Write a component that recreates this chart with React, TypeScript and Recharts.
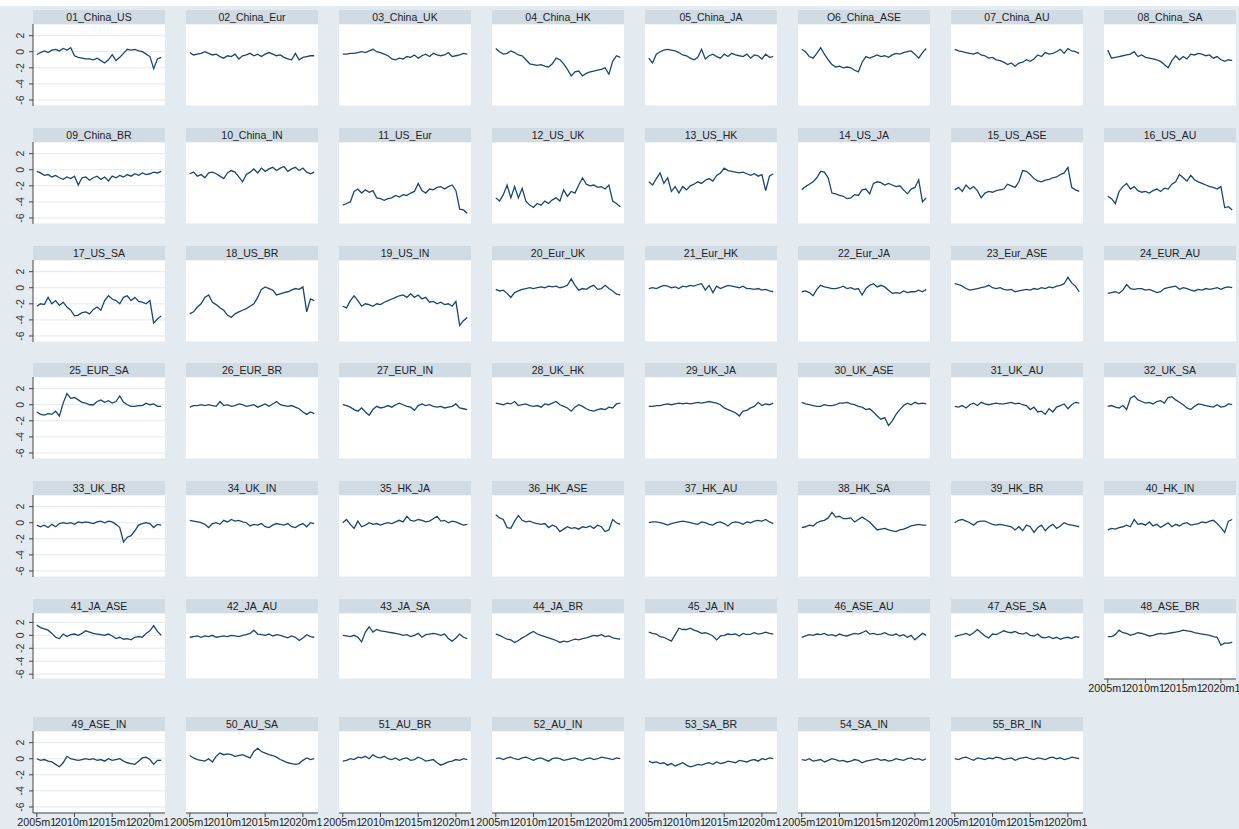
import React from 'react';
import { LineChart, Line, XAxis, YAxis, CartesianGrid } from 'recharts';

const dates = [2005, 2005.5, 2006, 2006.5, 2007, 2007.5, 2008, 2008.5, 2009, 2009.5, 2010, 2010.5, 2011, 2011.5, 2012, 2012.5, 2013, 2013.5, 2014, 2014.5, 2015, 2015.5, 2016, 2016.5, 2017, 2017.5, 2018, 2018.5, 2019, 2019.5, 2020, 2020.5, 2021, 2021.5];
const xTicks = [2005, 2010, 2015, 2020];
const yTicks = [-6, -4, -2, 0, 2];

const titles = ['01_China_US', '02_China_Eur', '03_China_UK', '04_China_HK', '05_China_JA', 'O6_China_ASE', '07_China_AU', '08_China_SA', '09_China_BR', '10_China_IN', '11_US_Eur', '12_US_UK', '13_US_HK', '14_US_JA', '15_US_ASE', '16_US_AU', '17_US_SA', '18_US_BR', '19_US_IN', '20_Eur_UK', '21_Eur_HK', '22_Eur_JA', '23_Eur_ASE', '24_EUR_AU', '25_EUR_SA', '26_EUR_BR', '27_EUR_IN', '28_UK_HK', '29_UK_JA', '30_UK_ASE', '31_UK_AU', '32_UK_SA', '33_UK_BR', '34_UK_IN', '35_HK_JA', '36_HK_ASE', '37_HK_AU', '38_HK_SA', '39_HK_BR', '40_HK_IN', '41_JA_ASE', '42_JA_AU', '43_JA_SA', '44_JA_BR', '45_JA_IN', '46_ASE_AU', '47_ASE_SA', '48_ASE_BR', '49_ASE_IN', '50_AU_SA', '51_AU_BR', '52_AU_IN', '53_SA_BR', '54_SA_IN', '55_BR_IN'];

const s01 = [-0.35, -0.1, 0.1, -0.1, 0.2, 0.3, 0.1, 0.4, 0.2, 0.5, -0.5, -0.7, -0.8, -0.9, -0.9, -1.0, -0.8, -1.1, -1.4, -1.0, -0.35, -1.1, -0.7, -0.2, 0.3, 0.2, 0.3, 0.1, 0.0, -0.3, -0.6, -2.1, -0.9, -0.7];
const s02 = [-0.1, -0.4, -0.3, -0.2, 0.0, -0.2, -0.4, -0.3, -0.6, -0.8, -0.5, -0.6, -0.3, -0.9, -0.5, -0.4, -0.2, -0.5, -0.3, -0.6, -0.3, -0.1, -0.3, -0.5, -0.4, -0.7, -0.9, -1.0, -0.2, -1.0, -0.7, -0.6, -0.5, -0.5];
const s03 = [-0.3, -0.3, -0.2, -0.2, -0.1, 0.0, -0.1, 0.1, 0.3, 0.0, -0.1, -0.3, -0.5, -0.9, -1.0, -0.8, -0.9, -0.6, -0.7, -0.4, -0.8, -0.5, -0.3, -0.6, -0.2, -0.4, -0.5, -0.4, -0.1, -0.6, -0.5, -0.4, -0.2, -0.3];
const s04 = [0.4, 0.0, -0.3, -0.2, 0.1, -0.1, -0.4, -0.5, -1.0, -1.5, -1.6, -1.7, -1.6, -1.8, -1.9, -1.5, -0.8, -1.0, -1.5, -2.2, -3.0, -2.5, -2.4, -3.0, -2.7, -2.5, -2.4, -2.3, -2.2, -2.0, -2.8, -1.2, -0.5, -0.7];
const s05 = [-0.8, -1.4, -0.3, 0.0, 0.2, 0.3, 0.2, 0.1, -0.1, -0.4, -0.5, -0.8, -1.0, -0.7, 0.3, -0.9, -0.5, -0.3, -0.6, -0.8, -0.3, -0.6, -0.2, -0.4, -0.5, -0.6, -0.3, -0.8, -0.4, -0.5, -0.9, -0.3, -0.7, -0.6];
const s06 = [0.3, 0.0, -0.6, -0.8, -0.2, 0.5, -0.3, -1.0, -1.6, -1.9, -1.8, -2.0, -1.9, -2.0, -2.3, -2.5, -1.3, -0.6, -0.8, -0.6, -0.4, -0.6, -0.5, -0.7, -0.4, -0.2, -0.3, -0.1, 0.0, 0.1, -0.3, -0.8, -0.1, 0.4];
const s07 = [0.3, 0.1, 0.0, -0.1, -0.2, -0.3, -0.1, -0.4, -0.5, -0.8, -0.7, -1.0, -1.1, -1.3, -1.6, -1.4, -1.8, -1.4, -1.3, -1.0, -1.2, -0.9, -0.4, -0.6, -0.1, -0.3, -0.2, 0.0, 0.3, -0.2, 0.4, 0.1, 0.0, -0.2];
const s08 = [0.2, -0.8, -0.7, -0.6, -0.5, -0.4, -0.3, 0.0, -0.6, -0.4, -0.7, -0.8, -0.9, -1.0, -1.2, -1.6, -2.0, -1.1, -0.5, -1.0, -0.6, -0.9, -0.3, -0.4, -0.2, -0.3, -0.5, -0.4, -0.8, -0.6, -1.0, -1.2, -1.0, -1.1];
const s09 = [-0.2, -0.4, -0.7, -0.6, -0.9, -0.7, -1.0, -1.2, -0.9, -1.1, -0.8, -1.9, -1.0, -0.9, -1.3, -1.0, -0.8, -1.2, -0.9, -1.4, -0.8, -1.0, -0.7, -0.9, -0.6, -0.8, -0.5, -0.7, -0.4, -0.6, -0.5, -0.3, -0.4, -0.2];
const s10 = [-0.5, -0.3, -0.8, -0.6, -1.0, -0.4, -0.3, -0.5, -0.8, -1.1, -0.4, -0.1, -0.3, -0.9, -1.5, -0.6, -0.3, 0.1, -0.4, 0.2, -0.2, 0.1, 0.3, -0.1, 0.2, 0.4, -0.2, 0.1, 0.3, -0.1, 0.2, -0.3, -0.5, -0.3];
const s11 = [-4.4, -4.2, -4.0, -2.7, -2.4, -2.9, -2.5, -2.8, -2.6, -3.5, -3.6, -3.8, -3.6, -3.5, -3.2, -3.4, -3.1, -3.2, -2.9, -2.7, -1.7, -2.6, -2.9, -2.4, -2.5, -2.2, -2.1, -2.4, -2.1, -1.9, -2.6, -4.9, -5.0, -5.4];
const s12 = [-3.5, -3.9, -3.1, -1.9, -3.5, -2.1, -3.5, -2.3, -3.9, -4.4, -4.7, -4.2, -4.4, -3.9, -4.2, -3.75, -3.5, -3.9, -2.5, -3.3, -2.7, -2.9, -1.9, -1.0, -1.8, -2.0, -1.9, -2.2, -2.1, -2.4, -1.9, -3.9, -4.2, -4.6];
const s13 = [-1.5, -1.9, -1.1, -0.4, -1.7, -1.0, -2.7, -2.1, -2.9, -2.1, -2.5, -2.0, -1.8, -1.5, -1.7, -1.3, -1.1, -1.4, -0.7, -0.4, 0.2, -0.1, -0.2, -0.3, -0.4, -0.3, -0.5, -0.7, -0.5, -0.8, -0.6, -2.6, -0.8, -0.5];
const s14 = [-2.5, -2.1, -1.8, -1.5, -1.0, -0.2, -0.3, -1.0, -2.9, -3.0, -3.2, -3.3, -3.6, -3.5, -3.1, -3.2, -2.5, -2.4, -3.0, -1.7, -1.5, -1.6, -1.9, -1.7, -1.9, -2.1, -2.0, -2.5, -3.0, -2.4, -2.2, -1.25, -4.0, -3.5];
const s15 = [-2.5, -2.2, -2.7, -1.9, -2.4, -2.1, -2.6, -3.5, -2.9, -2.7, -2.8, -2.6, -2.5, -2.4, -1.8, -2.0, -2.2, -1.5, -0.1, -0.2, -0.6, -1.1, -1.4, -1.5, -1.3, -1.2, -1.0, -0.9, -0.6, -0.4, 0.3, -2.2, -2.5, -2.7];
const s16 = [-3.3, -3.6, -4.2, -2.7, -2.1, -1.7, -2.4, -2.1, -2.6, -2.8, -2.7, -2.9, -2.6, -2.4, -2.7, -2.3, -2.4, -1.8, -1.5, -0.6, -1.0, -1.4, -0.7, -1.25, -1.5, -1.7, -1.9, -2.1, -2.2, -2.4, -2.1, -4.7, -4.6, -5.0];
const s17 = [-2.3, -2.0, -2.1, -1.2, -2.0, -1.6, -2.2, -1.8, -2.4, -2.8, -3.5, -3.4, -3.1, -3.0, -3.25, -2.7, -2.4, -2.8, -1.6, -1.0, -1.4, -1.6, -2.0, -1.2, -1.0, -1.6, -1.2, -1.7, -1.8, -2.0, -1.6, -4.4, -3.9, -3.5];
const s18 = [-3.25, -3.0, -2.4, -2.0, -1.2, -0.9, -1.8, -2.1, -2.5, -2.8, -3.4, -3.7, -3.25, -3.0, -2.8, -2.6, -2.3, -2.0, -1.2, -0.2, 0.1, -0.1, -0.3, -0.9, -0.75, -0.6, -0.5, -0.3, -0.1, -0.2, 0.1, -3.0, -1.4, -1.6];
const s19 = [-2.3, -2.5, -1.6, -1.0, -1.6, -2.3, -2.0, -2.1, -2.3, -2.0, -2.1, -1.8, -1.6, -1.4, -1.2, -1.0, -0.9, -1.2, -0.75, -1.2, -0.9, -1.4, -1.2, -1.8, -1.7, -2.0, -1.8, -2.1, -2.0, -2.3, -1.7, -4.7, -4.1, -3.7];
const s20 = [-0.2, -0.4, -0.3, -0.7, -1.2, -0.6, -0.4, -0.2, -0.1, 0.0, -0.1, 0.0, 0.1, 0.0, 0.2, 0.1, 0.2, 0.0, 0.1, 0.3, 1.1, 0.3, -0.3, -0.1, -0.2, 0.1, 0.3, -0.2, -0.1, 0.3, -0.1, -0.4, -0.8, -0.9];
const s21 = [-0.1, 0.0, -0.1, 0.1, 0.3, 0.2, 0.0, 0.1, -0.1, 0.2, 0.1, 0.3, 0.2, 0.4, 0.5, -0.3, 0.3, -0.6, 0.2, -0.1, 0.1, 0.3, 0.2, 0.1, 0.0, 0.2, -0.1, -0.1, -0.2, -0.1, -0.3, -0.2, -0.4, -0.5];
const s22 = [-0.5, -0.4, -0.6, -1.0, -0.2, 0.3, 0.1, 0.0, -0.1, -0.1, 0.0, 0.2, -0.1, 0.0, -0.2, -0.1, -0.9, -0.1, 0.3, 0.5, 0.1, 0.3, 0.1, -0.3, -0.7, -0.6, -0.7, -0.4, -0.6, -0.5, -0.5, -0.3, -0.5, -0.2];
const s23 = [0.5, 0.4, 0.2, -0.1, -0.3, -0.2, -0.1, 0.0, 0.1, 0.3, 0.0, -0.1, 0.0, -0.2, -0.3, -0.2, -0.5, -0.4, -0.3, -0.2, -0.3, -0.1, -0.2, 0.0, -0.1, 0.1, 0.0, 0.2, 0.3, 0.5, 1.3, 0.6, 0.2, -0.5];
const s24 = [-0.7, -0.6, -0.5, -0.7, -0.3, 0.4, -0.1, -0.2, -0.1, -0.1, -0.3, -0.2, -0.4, -0.6, -0.5, -0.1, 0.0, 0.1, 0.2, -0.2, 0.0, -0.1, -0.3, -0.4, -0.2, -0.3, -0.1, -0.2, -0.1, 0.0, -0.2, 0.0, 0.1, 0.0];
const s25 = [-0.9, -1.2, -1.3, -1.1, -1.2, -0.8, -1.4, 0.2, 1.4, 0.8, 0.9, 0.6, 0.3, 0.2, 0.0, 0.0, 0.4, 0.6, 0.3, 0.5, 0.2, 0.4, 1.1, 0.3, 0.0, -0.2, -0.2, -0.1, -0.1, 0.2, 0.0, 0.1, -0.2, -0.2];
const s26 = [-0.3, -0.1, -0.1, 0.0, -0.1, 0.0, -0.1, -0.2, 0.4, -0.1, 0.0, -0.2, -0.1, 0.1, 0.0, -0.2, -0.1, 0.0, -0.3, -0.1, 0.1, -0.2, 0.1, 0.4, 0.0, -0.1, -0.2, -0.1, -0.3, -0.5, -0.9, -1.2, -0.9, -1.1];
const s27 = [0.0, -0.1, -0.3, -0.6, -0.8, -0.4, -0.9, -1.3, -0.6, -0.2, -0.4, -0.3, -0.1, -0.3, 0.0, 0.2, 0.0, -0.2, -0.3, -0.7, -0.1, 0.1, -0.1, 0.0, -0.2, -0.3, -0.2, -0.4, -0.3, -0.2, 0.1, -0.4, -0.5, -0.6];
const s28 = [0.2, 0.1, 0.0, 0.2, 0.1, 0.4, -0.1, 0.0, 0.1, -0.1, -0.2, -0.1, -0.3, 0.1, 0.0, 0.2, 0.4, 0.0, -0.2, -0.4, -0.8, -0.3, 0.0, -0.2, -0.5, -0.7, -0.8, -0.6, -0.5, -0.6, -0.3, -0.4, 0.1, 0.2];
const s29 = [-0.2, -0.2, -0.1, -0.1, 0.0, 0.1, 0.0, 0.1, 0.2, 0.1, 0.2, 0.1, 0.2, 0.3, 0.2, 0.3, 0.4, 0.3, 0.2, 0.0, -0.4, -0.6, -0.8, -1.0, -1.4, -0.8, -0.7, -0.4, -0.2, 0.3, -0.1, 0.1, 0.0, 0.2];
const s30 = [0.3, 0.1, 0.0, -0.1, -0.2, -0.2, 0.0, -0.1, -0.1, 0.0, 0.2, 0.2, 0.3, 0.1, 0.0, -0.2, -0.3, -0.6, -0.5, -0.9, -1.4, -1.8, -1.6, -2.6, -2.0, -1.2, -0.6, -0.1, 0.2, 0.0, 0.3, 0.1, 0.2, 0.1];
const s31 = [-0.2, -0.3, -0.1, -0.4, 0.0, 0.2, -0.1, 0.3, 0.1, 0.0, 0.1, 0.2, 0.1, 0.1, 0.2, 0.3, 0.1, 0.2, 0.0, -0.1, -0.6, -0.3, -0.9, -0.8, -1.2, -0.5, -0.9, -0.3, -0.1, 0.1, -0.5, 0.0, 0.3, 0.2];
const s32 = [-0.2, -0.1, -0.3, -0.4, -0.1, -0.6, 0.8, 1.1, 0.6, 0.4, 0.2, 0.3, 0.1, 0.4, 0.5, 0.2, 0.9, 1.0, 0.6, 0.3, 0.0, -0.4, -0.6, -0.2, 0.1, 0.0, -0.1, -0.2, -0.3, 0.0, -0.3, -0.2, 0.1, 0.0];
const s33 = [-0.3, -0.5, -0.3, -0.6, -0.2, -0.5, -0.1, 0.0, -0.1, 0.0, -0.2, 0.1, 0.0, 0.1, 0.0, -0.1, 0.1, 0.2, 0.0, 0.2, 0.1, -0.2, -0.6, -2.4, -1.8, -1.6, -1.0, -0.3, -0.1, 0.0, -0.1, -0.6, -0.2, -0.3];
const s34 = [0.3, 0.2, 0.1, 0.0, -0.2, -0.6, -0.1, 0.0, -0.2, 0.3, 0.1, 0.4, 0.2, 0.3, 0.1, 0.0, -0.4, -0.2, -0.3, -0.1, -0.5, -0.6, -0.3, -0.1, -0.2, -0.3, -0.1, -0.5, -0.6, -0.3, -0.1, -0.5, 0.0, -0.1];
const s35 = [0.0, 0.4, -0.2, -0.7, 0.2, -0.5, -0.3, 0.0, -0.2, -0.1, -0.3, -0.1, 0.0, -0.1, 0.1, 0.3, 0.1, 0.8, 0.3, 0.2, 0.4, 0.3, 0.1, 0.2, 0.5, 0.8, 0.2, 0.3, 0.0, 0.2, 0.1, -0.1, -0.3, -0.2];
const s36 = [1.0, 0.6, 0.4, -0.6, -0.7, 0.2, 0.9, 0.3, 0.1, 0.2, 0.0, -0.1, -0.2, -0.1, -0.6, -0.3, -0.5, -1.1, -0.8, -0.5, -0.7, -0.6, -0.8, -0.5, -0.6, -0.4, -0.7, -0.3, -0.5, -1.1, -0.9, 0.4, 0.0, -0.2];
const s37 = [0.0, 0.1, 0.1, 0.0, -0.1, -0.3, -0.1, 0.0, 0.1, 0.2, 0.1, 0.0, -0.1, -0.2, 0.1, 0.0, -0.2, -0.3, 0.0, 0.1, -0.1, -0.4, 0.0, 0.1, 0.0, -0.2, 0.1, 0.0, 0.2, 0.3, 0.2, 0.4, 0.1, -0.1];
const s38 = [-0.6, -0.5, -0.3, -0.4, 0.0, 0.2, 0.3, 0.6, 1.3, 0.7, 0.8, 0.5, 0.5, 0.6, 0.1, 0.4, 0.7, 0.4, 0.1, -0.4, -0.9, -0.8, -0.7, -0.9, -1.0, -1.1, -0.9, -0.8, -0.6, -0.4, -0.3, -0.2, -0.3, -0.3];
const s39 = [0.0, 0.3, 0.4, 0.2, 0.0, -0.3, 0.1, 0.2, 0.2, 0.0, -0.2, -0.3, -0.2, -0.3, -0.4, -0.5, -0.9, -0.5, -1.0, -0.3, -0.5, -1.2, -0.6, -0.3, -1.0, -0.5, -0.2, -0.7, -0.4, 0.0, -0.2, -0.3, -0.4, -0.5];
const s40 = [-0.9, -0.7, -0.8, -0.6, -0.5, -0.3, -0.5, 0.4, -0.2, -0.1, -0.3, 0.1, -0.4, -0.2, -0.6, -0.3, 0.0, -0.5, -0.2, -0.4, -0.1, 0.0, -0.3, -0.2, -0.1, 0.1, 0.0, 0.2, 0.3, -0.1, -0.6, -1.2, 0.2, 0.4];
const s41 = [1.6, 1.2, 1.0, 0.8, 0.3, -0.3, -0.5, 0.2, -0.2, 0.1, 0.2, 0.0, 0.3, 0.7, 0.5, 0.3, 0.2, 0.1, 0.0, 0.2, -0.1, -0.5, -0.3, -0.6, -0.5, -0.7, -0.3, -0.2, -0.3, 0.3, 0.7, 1.5, 0.6, 0.0];
const s42 = [-0.3, -0.2, -0.1, -0.3, -0.1, -0.2, 0.0, -0.3, -0.2, -0.1, -0.2, 0.0, -0.1, -0.2, 0.0, 0.1, 0.3, 0.8, 0.2, 0.1, 0.0, 0.2, -0.1, 0.1, 0.0, -0.2, -0.4, -0.1, -0.3, -0.8, -0.4, 0.1, -0.2, -0.3];
const s43 = [0.0, -0.1, -0.2, 0.0, -0.3, -1.0, 0.5, 1.3, 0.5, 0.9, 0.7, 0.6, 0.5, 0.4, 0.3, 0.2, 0.0, 0.1, -0.2, 0.0, 0.3, -0.3, 0.1, 0.2, 0.3, 0.2, 0.0, 0.2, -0.5, -0.9, -0.4, 0.2, -0.3, -0.5];
const s44 = [0.2, 0.0, -0.3, -0.6, -0.7, -1.1, -0.8, -0.4, -0.1, 0.3, 0.6, 0.2, 0.0, -0.2, -0.4, -0.6, -0.8, -1.1, -0.9, -1.0, -0.8, -0.6, -0.7, -0.5, -0.4, -0.2, 0.0, -0.1, 0.1, -0.2, -0.1, -0.4, -0.5, -0.6];
const s45 = [0.5, 0.3, 0.2, -0.2, -0.3, -0.6, -0.9, 0.1, 1.1, 0.9, 0.9, 1.1, 0.8, 0.6, 0.3, 0.4, 0.2, -0.1, -0.7, -0.1, 0.0, 0.2, 0.1, 0.2, -0.1, 0.3, 0.1, 0.2, 0.4, 0.2, 0.3, 0.5, 0.3, 0.2];
const s46 = [-0.3, -0.1, 0.1, 0.0, 0.2, 0.1, 0.3, 0.0, 0.1, -0.1, 0.2, 0.0, -0.1, 0.1, 0.3, 0.2, 0.4, 0.7, 0.2, 0.3, 0.1, 0.2, 0.4, 0.1, 0.0, 0.2, -0.1, 0.1, -0.3, 0.0, -0.7, -0.2, 0.3, 0.0];
const s47 = [-0.2, 0.0, 0.1, 0.3, 0.0, 0.4, 0.9, 0.4, -0.1, -0.4, 0.2, 0.1, 0.4, 0.7, 0.5, 0.4, 0.6, 0.3, 0.2, 0.4, 0.0, -0.1, 0.2, -0.3, -0.4, -0.2, -0.5, -0.3, -0.6, -0.4, -0.3, -0.5, -0.2, -0.3];
const s48 = [-0.2, -0.2, 0.1, 0.8, 0.4, 0.3, 0.0, 0.2, 0.4, 0.3, 0.1, -0.1, 0.0, 0.2, 0.3, 0.2, 0.3, 0.4, 0.5, 0.6, 0.8, 0.7, 0.6, 0.4, 0.3, 0.2, 0.1, 0.0, -0.2, -0.3, -1.5, -1.2, -1.2, -1.1];
const s49 = [0.0, -0.2, -0.1, -0.3, -0.4, -0.7, -1.0, -0.5, 0.3, 0.0, -0.1, -0.2, -0.1, 0.0, -0.1, 0.0, -0.2, -0.1, -0.3, 0.0, -0.2, -0.1, 0.0, -0.3, -0.5, -0.6, -0.7, -0.3, 0.1, 0.2, -0.1, -0.7, -0.2, -0.2];
const s50 = [0.4, 0.1, -0.1, -0.2, -0.3, 0.0, -0.4, 0.3, 0.7, 0.5, 0.6, 0.5, 0.3, 0.4, 0.5, 0.3, 0.1, 0.9, 1.3, 0.9, 0.7, 0.5, 0.4, 0.2, -0.1, -0.3, -0.5, -0.6, -0.7, -0.6, -0.2, 0.1, -0.1, 0.0];
const s51 = [-0.3, -0.2, 0.0, -0.1, 0.2, 0.1, 0.3, 0.0, 0.5, 0.2, 0.1, 0.3, 0.0, -0.1, 0.1, -0.2, 0.0, 0.1, -0.2, -0.1, 0.2, 0.0, -0.3, -0.2, -0.1, -0.5, -0.8, -0.6, -0.4, -0.3, -0.1, -0.2, 0.0, -0.1];
const s52 = [0.0, 0.1, -0.1, 0.1, 0.2, 0.0, -0.1, 0.1, 0.2, 0.0, -0.2, 0.0, 0.1, -0.1, -0.3, 0.0, 0.1, 0.0, -0.2, -0.1, 0.0, 0.1, -0.1, -0.2, 0.0, 0.1, -0.1, 0.0, 0.2, 0.1, 0.0, -0.1, 0.1, 0.0];
const s53 = [-0.3, -0.5, -0.4, -0.6, -0.5, -0.8, -0.6, -0.9, -0.7, -0.5, -0.8, -1.0, -0.9, -0.7, -0.8, -0.6, -0.5, -0.7, -0.4, -0.6, -0.5, -0.3, -0.4, -0.5, -0.2, -0.3, -0.4, -0.2, -0.1, -0.3, 0.0, -0.1, 0.1, 0.0];
const s54 = [-0.1, -0.2, 0.0, -0.3, -0.2, -0.1, -0.4, -0.2, 0.0, -0.1, -0.3, -0.2, -0.4, -0.3, -0.1, -0.2, -0.5, -0.3, -0.2, -0.1, 0.0, -0.2, -0.1, -0.3, -0.2, 0.0, -0.1, -0.2, 0.0, 0.1, -0.1, 0.0, -0.2, 0.0];
const s55 = [0.0, -0.1, 0.1, 0.2, 0.0, -0.2, 0.1, 0.0, -0.1, 0.1, 0.0, 0.2, 0.1, -0.1, 0.0, 0.1, -0.2, 0.0, 0.1, 0.2, 0.0, -0.1, 0.1, 0.0, -0.1, 0.1, 0.2, 0.0, 0.1, -0.1, 0.0, 0.2, 0.1, 0.0];

const seriesList = [s01, s02, s03, s04, s05, s06, s07, s08, s09, s10, s11, s12, s13, s14, s15, s16, s17, s18, s19, s20, s21, s22, s23, s24, s25, s26, s27, s28, s29, s30, s31, s32, s33, s34, s35, s36, s37, s38, s39, s40, s41, s42, s43, s44, s45, s46, s47, s48, s49, s50, s51, s52, s53, s54, s55];

const BG = '#e4ebf0';
const HEAD = '#d1dbe4';
const GRID = '#e3e9ee';
const LINE = '#1a476f';
const FONT = "Arial, 'Liberation Sans', Helvetica, sans-serif";

const NCOL = 8;
const PITCH_X = 153;
const PITCH_Y = 117.8;
const LEFT0 = 33;
const TOP0 = 10;
const HEAD_H = 14;
const PLOT_W = 132;
const PLOT_H = 82;
const PLOT_H_SHORT = 66;
const AXIS_W = 33;
const PAD_R = 14;
const X_AXIS_H = 22;

const renderYTick = (props: any) => {
  const { x, y, payload } = props;
  return (
    <text x={x} y={y} transform={`rotate(-90, ${x}, ${y})`} textAnchor="middle" fontSize={10.5} fill="#333" fontFamily={FONT}>
      {payload.value}
    </text>
  );
};

function Panel({ idx }: { idx: number }) {
  const col = idx % NCOL;
  const row = Math.floor(idx / NCOL);
  const x0 = LEFT0 + col * PITCH_X;
  const headTop = Math.round(TOP0 + row * PITCH_Y);
  const plotTop = headTop + HEAD_H;
  const showX = idx >= seriesList.length - NCOL;
  const showY = col === 0;
  const nRows = Math.ceil(seriesList.length / NCOL);
  const plotH = row === nRows - 2 ? PLOT_H_SHORT : PLOT_H;
  const values = seriesList[idx];
  const data = dates.map((t, k) => ({ t, v: values[k] }));
  return (
    <>
      <div
        style={{
          position: 'absolute',
          left: x0,
          top: headTop,
          width: PLOT_W,
          height: HEAD_H,
          background: HEAD,
          fontFamily: FONT,
          fontSize: 10.5,
          lineHeight: `${HEAD_H}px`,
          textAlign: 'center',
          color: '#222',
        }}
      >
        {titles[idx]}
      </div>
      <div style={{ position: 'absolute', left: x0 - AXIS_W, top: plotTop }}>
        <LineChart
          width={AXIS_W + PLOT_W + PAD_R}
          height={plotH + (showX ? X_AXIS_H : 0)}
          data={data}
          margin={{ top: 0, right: PAD_R, bottom: 0, left: 0 }}
        >
          <CartesianGrid vertical={false} stroke={GRID} fill="#ffffff" />
          <XAxis
            type="number"
            dataKey="t"
            domain={[2004.5, 2022]}
            ticks={xTicks}
            interval={0}
            hide={!showX}
            height={X_AXIS_H}
            tickFormatter={(v: number) => `${v}m1`}
            tick={{ fontSize: 10.8, fill: '#222', fontFamily: FONT }}
            tickSize={4}
            tickMargin={1}
            stroke="#444"
            allowDataOverflow
          />
          <YAxis
            type="number"
            domain={[-6.75, 3.45]}
            ticks={yTicks}
            interval={0}
            width={AXIS_W}
            axisLine={showY ? { stroke: '#444' } : false}
            tickLine={showY ? { stroke: '#444' } : false}
            tickSize={4}
            tickMargin={5}
            tick={showY ? renderYTick : false}
            allowDataOverflow
          />
          <Line type="linear" dataKey="v" stroke={LINE} strokeWidth={1.3} dot={false} isAnimationActive={false} />
        </LineChart>
      </div>
    </>
  );
}

export default function App() {
  return (
    <div style={{ position: 'absolute', left: 0, top: 0, width: 1239, height: 829, background: BG, overflow: 'hidden' }}>
      <div style={{ position: 'absolute', left: 0, top: 0, width: 1239, height: 6, background: '#ffffff' }} />
      {seriesList.map((_, i) => (
        <Panel key={i} idx={i} />
      ))}
    </div>
  );
}
